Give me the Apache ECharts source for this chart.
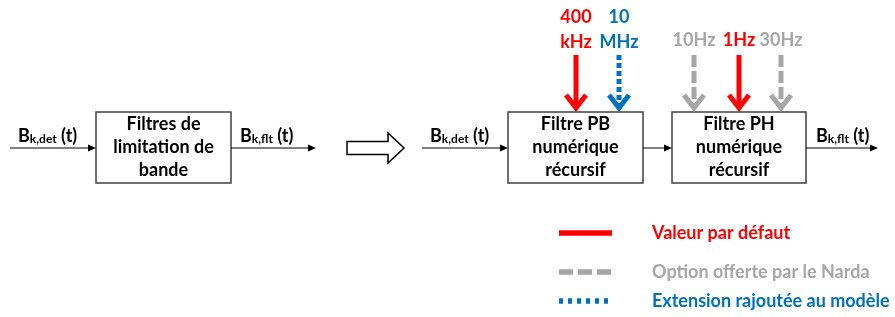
<!DOCTYPE html>
<html>
<head>
<meta charset="utf-8">
<script src="https://cdn.jsdelivr.net/npm/echarts@6/dist/echarts.min.js"></script>
<style>
  html, body { margin: 0; padding: 0; background: #fff; }
  #chart { width: 895px; height: 317px; }
</style>
</head>
<body>
<div id="chart"></div>
<script>
// diagram data, in picture units (x right, y down)
const blockLabels = ['Filtres de\nlimitation de\nbande', 'Filtre PB\nnumérique\nrécursif', 'Filtre PH\nnumérique\nrécursif'];
const blockBoxes = [[96, 112, 231, 183], [508, 112, 643, 183], [672, 112, 806, 183]];

const signalLines = [[10, 148, 96], [231, 148, 316], [422, 148, 508], [643, 148, 672], [806, 148, 878]];
const signalNames = [['B', 'k,det', 18, 134], ['B', 'k,flt', 240, 134], ['B', 'k,det', 430, 134], ['B', 'k,flt', 816, 134]];

const selectorX = [576, 619, 694, 739, 781];
const selectorKind = ['default', 'extension', 'option', 'default', 'option'];
const selectorLabels = ['400\nkHz', '10\nMHz', '10Hz', '1Hz', '30Hz'];
const selectorTop = 55;
const selectorBottom = 111;

const legendKinds = ['default', 'option', 'extension'];
const legendLabels = ['Valeur par défaut', 'Option offerte par le Narda', 'Extension rajoutée au modèle'];
const legendY = [233, 272, 301];

const kindColor = { default: '#ff0000', option: '#a6a6a6', extension: '#0070c0' };
const arrowDash = { default: null, option: [12, 4], extension: [5, 3] };
const legendDash = { default: null, option: [14, 5], extension: [4, 5] };

const FONT = 'Lato, "Open Sans", sans-serif';

const chart = echarts.init(document.getElementById('chart'));

function pt(api, x, y) {
  return api.coord([x, y]);
}

const subRich = {
  b: { fontSize: 18, fontWeight: 'bold', fontFamily: FONT, color: '#000', lineHeight: 22, verticalAlign: 'bottom' },
  s: { fontSize: 12, fontWeight: 'bold', fontFamily: FONT, color: '#000', lineHeight: 14, verticalAlign: 'bottom' }
};

chart.setOption({
  animation: false,
  grid: { left: 0, right: 0, top: 0, bottom: 0 },
  xAxis: { type: 'value', min: 0, max: 895, show: false },
  yAxis: { type: 'value', min: 0, max: 317, inverse: true, show: false },
  series: [
    {
      // blocks
      type: 'custom',
      data: blockBoxes.map((b, i) => [b[0], b[1], b[2], b[3], i]),
      renderItem: (params, api) => {
        const p0 = pt(api, api.value(0), api.value(1));
        const p1 = pt(api, api.value(2), api.value(3));
        const i = api.value(4);
        return {
          type: 'group',
          children: [
            { type: 'rect', shape: { x: p0[0], y: p0[1], width: p1[0] - p0[0], height: p1[1] - p0[1] },
              style: { fill: '#fff', stroke: '#404040', lineWidth: 1.5 } },
            { type: 'text', x: (p0[0] + p1[0]) / 2, y: (p0[1] + p1[1]) / 2,
              style: { text: blockLabels[i], fontSize: 18, fontWeight: 'bold', fontFamily: FONT, fill: '#000',
                       align: 'center', verticalAlign: 'middle', lineHeight: 23 } }
          ]
        };
      }
    },
    {
      // thin signal arrows
      type: 'custom',
      data: signalLines,
      renderItem: (params, api) => {
        const a = pt(api, api.value(0), api.value(1));
        const b = pt(api, api.value(2), api.value(1));
        return {
          type: 'group',
          children: [
            { type: 'line', shape: { x1: a[0], y1: a[1], x2: b[0] - 6, y2: b[1] }, style: { stroke: '#000', lineWidth: 1 } },
            { type: 'polygon', shape: { points: [[b[0], b[1]], [b[0] - 8, b[1] - 3.5], [b[0] - 8, b[1] + 3.5]] }, style: { fill: '#000' } }
          ]
        };
      }
    },
    {
      // signal names with subscript
      type: 'custom',
      data: signalNames.map((s, i) => [s[2], s[3], i]),
      renderItem: (params, api) => {
        const p = pt(api, api.value(0), api.value(1));
        const s = signalNames[api.value(2)];
        return {
          type: 'text', x: p[0], y: p[1],
          style: { text: '{b|' + s[0] + '}{s|' + s[1] + '}{b| (t)}', rich: subRich, align: 'left', verticalAlign: 'middle' }
        };
      }
    },
    {
      // big hollow arrow
      type: 'custom',
      data: [[347, 148]],
      renderItem: (params, api) => {
        const pts = [[0, -6.5], [41, -6.5], [41, -15], [57, 0], [41, 15], [41, 6.5], [0, 6.5]]
          .map(d => pt(api, api.value(0) + d[0], api.value(1) + d[1]));
        return { type: 'polygon', shape: { points: pts }, style: { fill: '#fff', stroke: '#000', lineWidth: 1.5 } };
      }
    },
    {
      // selector arrows
      type: 'custom',
      data: selectorX.map((x, i) => [x, selectorTop, selectorBottom, i]),
      renderItem: (params, api) => {
        const i = api.value(3);
        const kind = selectorKind[i];
        const top = pt(api, api.value(0), api.value(1));
        const tip = pt(api, api.value(0), api.value(2));
        const color = kindColor[kind];
        const single = selectorLabels[i].indexOf('\n') < 0;
        return {
          type: 'group',
          children: [
            { type: 'line', shape: { x1: top[0], y1: top[1], x2: tip[0], y2: tip[1] - 3 },
              style: { stroke: color, lineWidth: 5, lineDash: arrowDash[kind] } },
            { type: 'polyline', shape: { points: [[tip[0] - 10, tip[1] - 16], [tip[0], tip[1] - 3], [tip[0] + 10, tip[1] - 16]] },
              style: { stroke: color, lineWidth: 5, fill: null } },
            { type: 'text', x: top[0], y: single ? top[1] - 15 : top[1] - 25,
              style: { text: selectorLabels[i], fontSize: 18, fontWeight: 'bold', fontFamily: FONT, fill: color,
                       align: 'center', verticalAlign: 'middle', lineHeight: 25 } }
          ]
        };
      }
    },
    {
      // legend
      type: 'custom',
      data: legendY.map((y, i) => [559, y, i]),
      renderItem: (params, api) => {
        const i = api.value(2);
        const kind = legendKinds[i];
        const a = pt(api, api.value(0), api.value(1));
        const b = pt(api, api.value(0) + 53, api.value(1));
        const t = pt(api, 652, api.value(1));
        return {
          type: 'group',
          children: [
            { type: 'line', shape: { x1: a[0], y1: a[1], x2: b[0], y2: b[1] },
              style: { stroke: kindColor[kind], lineWidth: 5.5, lineDash: legendDash[kind] } },
            { type: 'text', x: t[0], y: t[1],
              style: { text: legendLabels[i], fontSize: 18, fontWeight: 'bold', fontFamily: FONT, fill: kindColor[kind],
                       align: 'left', verticalAlign: 'middle' } }
          ]
        };
      }
    }
  ]
});
</script>
</body>
</html>
